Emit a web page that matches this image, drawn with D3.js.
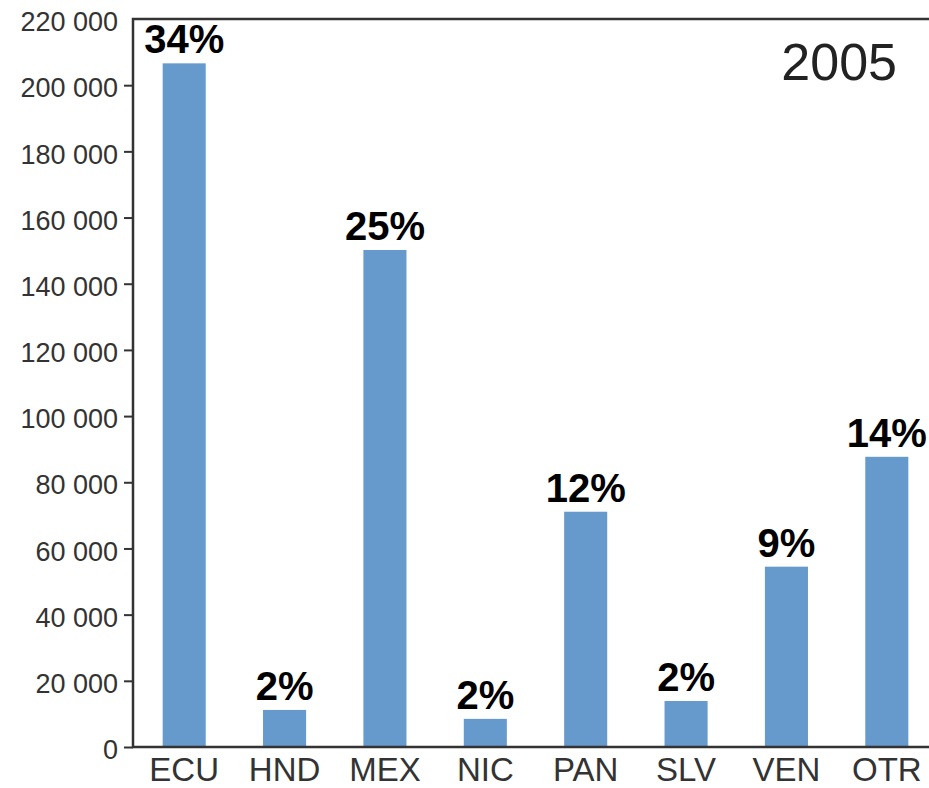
<!DOCTYPE html>
<html>
<head>
<meta charset="utf-8">
<title>2005</title>
<script src="https://cdn.jsdelivr.net/npm/d3@7"></script>
<style>
  body { margin: 0; background: #fff; }
  svg { display: block; font-family: "Liberation Sans", Arial, Helvetica, sans-serif; }
</style>
</head>
<body>
<script>
// data
var categories = ["ECU", "HND", "MEX", "NIC", "PAN", "SLV", "VEN", "OTR"];
var values = [206600, 11200, 150200, 8500, 71100, 13900, 54500, 87700];
var shares = ["34%", "2%", "25%", "2%", "12%", "2%", "9%", "14%"];
var yTicks = [0, 20000, 40000, 60000, 80000, 100000, 120000, 140000, 160000, 180000, 200000, 220000];
var yearLabel = "2005";

var svg_width = 929, svg_height = 788;
var plot = {left: 133, top: 19, bottom: 747, right: 929};

var svg = d3.select("body").append("svg")
	.attr("width", svg_width)
	.attr("height", svg_height);

var x = d3.scaleBand()
	.domain(categories)
	.range([134, 937])
	.paddingInner(0.571)
	.paddingOuter(0.2855);
var y = d3.scaleLinear().domain([0, 220000]).range([plot.bottom, plot.top]);

var fmt = d3.formatLocale({decimal: ".", thousands: " ", grouping: [3], currency: ["", ""]}).format(",");

// bars
svg.append("g")
	.selectAll("rect")
	.data(values)
	.enter()
	.append("rect")
	.attr("x", function(d, i) { return x(categories[i]); })
	.attr("y", function(d) { return y(d); })
	.attr("width", x.bandwidth())
	.attr("height", function(d) { return y(0) - y(d); })
	.attr("fill", "#6699cc");

// percent labels
svg.append("g")
	.selectAll("text")
	.data(values)
	.enter()
	.append("text")
	.attr("x", function(d, i) { return x(categories[i]) + x.bandwidth() / 2; })
	.attr("y", function(d) { return y(d) - 10; })
	.attr("text-anchor", "middle")
	.attr("font-size", 40)
	.attr("font-weight", "bold")
	.attr("fill", "#000")
	.text(function(d, i) { return shares[i]; });

// y axis
var yAxis = d3.axisLeft(y)
	.tickValues(yTicks)
	.tickSize(9)
	.tickPadding(6)
	.tickFormat(fmt);
var gy = svg.append("g")
	.attr("transform", "translate(" + plot.left + ",0)")
	.call(yAxis);
gy.select(".domain").remove();
gy.selectAll(".tick line").attr("stroke", "#333").attr("stroke-width", 2);
gy.selectAll(".tick").filter(function(d) { return d === 220000; }).select("line").remove();
gy.selectAll(".tick text")
	.attr("font-size", 27)
	.attr("fill", "#333")
	.attr("font-family", "'Liberation Sans', Arial, sans-serif")
	.attr("transform", "translate(0,3)");

// x labels
svg.append("g")
	.selectAll("text")
	.data(categories)
	.enter()
	.append("text")
	.attr("x", function(d) { return x(d) + x.bandwidth() / 2; })
	.attr("y", 781)
	.attr("text-anchor", "middle")
	.attr("font-size", 33)
	.attr("fill", "#333")
	.text(function(d) { return d; });

// frame lines
svg.append("path")
	.attr("d", "M" + plot.right + "," + plot.top + "H" + plot.left + "V" + plot.bottom + "H" + plot.right)
	.attr("fill", "none")
	.attr("stroke", "#333")
	.attr("stroke-width", 2.5);

// year
svg.append("text")
	.attr("x", 897)
	.attr("y", 80)
	.attr("text-anchor", "end")
	.attr("font-size", 52)
	.attr("fill", "#222")
	.text(yearLabel);
</script>
</body>
</html>
